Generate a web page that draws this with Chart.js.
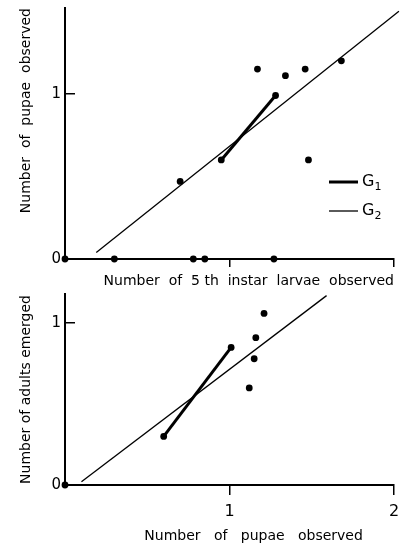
<!DOCTYPE html>
<html>
<head>
<meta charset="utf-8">
<script src="https://cdn.jsdelivr.net/npm/chart.js@4.4.1/dist/chart.umd.min.js"></script>
<style>
  body { margin: 0; background: #fff; }
  canvas { display: block; }
</style>
</head>
<body>
<canvas id="larvaeChart" width="401" height="290"></canvas>
<canvas id="pupaeChart" width="401" height="260"></canvas>
<script>
// ---- top panel: 5th instar larvae -> pupae ----
const larvaeX = [0, 0.30, 0.78, 0.85, 1.27, 0.70, 0.95, 1.17, 1.28, 1.34, 1.46, 1.48, 1.68];
const pupaeY  = [0, 0, 0, 0, 0, 0.47, 0.60, 1.15, 0.99, 1.11, 1.15, 0.60, 1.20];
const g1TopX = [0.95, 1.28];
const g1TopY = [0.60, 0.99];
const g2TopX = [0.19, 2.03];
const g2TopY = [0.04, 1.50];

// ---- bottom panel: pupae -> adults ----
const pupaeX  = [0, 0.60, 1.01, 1.21, 1.16, 1.15, 1.12];
const adultsY = [0, 0.30, 0.85, 1.06, 0.91, 0.78, 0.60];
const g1BotX = [0.60, 1.01];
const g1BotY = [0.30, 0.85];
const g2BotX = [0.10, 1.59];
const g2BotY = [0.02, 1.17];

// tick values
const xTicks = [1, 2];
const yTicks = [0, 1];

const FONT = "'DejaVu Sans', sans-serif";

function pts(xs, ys) {
  return xs.map((x, i) => ({ x: x, y: ys[i] }));
}

// legend drawn inside the plot (G with subscript)
const gLegend = {
  id: "gLegend",
  afterDatasetsDraw(chart, args, opts) {
    if (!opts.show) return;
    const ctx = chart.ctx;
    const items = chart.data.datasets.filter(d => d.inLegend);
    items.forEach((d, i) => {
      const y = opts.y + i * opts.gap;
      ctx.save();
      ctx.strokeStyle = "#000";
      ctx.lineWidth = d.borderWidth;
      ctx.beginPath();
      ctx.moveTo(opts.x, y);
      ctx.lineTo(opts.x + 29, y);
      ctx.stroke();
      ctx.fillStyle = "#000";
      ctx.textBaseline = "middle";
      ctx.font = "16px " + FONT;
      ctx.fillText(d.label.charAt(0), opts.x + 33, y);
      const w = ctx.measureText(d.label.charAt(0)).width;
      ctx.font = "11px " + FONT;
      ctx.fillText(d.label.slice(1), opts.x + 33 + w, y + 5);
      ctx.restore();
    });
  }
};

function makeOptions(cfg) {
  return {
    responsive: false,
    animation: false,
    layout: { padding: { left: 0, right: 7, top: cfg.padTop, bottom: 0 } },
    plugins: {
      legend: { display: false },
      tooltip: { enabled: false },
      gLegend: cfg.legend
    },
    scales: {
      x: {
        type: "linear",
        min: 0,
        max: 2,
        afterBuildTicks: s => { s.ticks = xTicks.map(v => ({ value: v })); },
        afterFit: s => {
          s.height = cfg.xHeight;
          s.paddingLeft = 0;
          s.paddingRight = 0;
        },
        ticks: {
          display: cfg.xLabels,
          color: "#000",
          font: { family: FONT, size: 16 },
          padding: 7,
          autoSkip: false
        },
        grid: { drawOnChartArea: false, tickLength: cfg.xTickLen, color: "#000", lineWidth: 1.5 },
        border: { color: "#000", width: 2 },
        title: {
          display: true,
          text: cfg.xTitle,
          align: "end",
          color: "#000",
          font: { family: FONT, size: 14 },
          padding: { top: 0, bottom: cfg.xTitlePad }
        }
      },
      y: {
        type: "linear",
        min: 0,
        max: cfg.yMax,
        afterBuildTicks: s => { s.ticks = yTicks.map(v => ({ value: v })); },
        afterFit: s => {
          s.width = 65;
          s.paddingTop = 0;
          s.paddingBottom = 0;
        },
        ticks: {
          color: "#000",
          font: { family: FONT, size: 15 },
          padding: 14
        },
        grid: { drawOnChartArea: false, tickLength: -10, color: "#000", lineWidth: 1.5 },
        border: { color: "#000", width: 2 },
        title: {
          display: true,
          text: cfg.yTitle,
          align: cfg.yAlign,
          color: "#000",
          font: { family: FONT, size: 14 },
          padding: { top: 18, bottom: 0 }
        }
      }
    }
  };
}

function makeDatasets(px, py, g1x, g1y, g2x, g2y) {
  return [
    {
      label: "obs",
      data: pts(px, py),
      pointRadius: 3.4,
      pointBackgroundColor: "#000",
      pointBorderWidth: 0,
      showLine: false,
      clip: false
    },
    {
      label: "G1",
      inLegend: true,
      data: pts(g1x, g1y),
      showLine: true,
      borderColor: "#000",
      borderWidth: 3,
      pointRadius: 0,
      clip: false
    },
    {
      label: "G2",
      inLegend: true,
      data: pts(g2x, g2y),
      showLine: true,
      borderColor: "#000",
      borderWidth: 1.3,
      pointRadius: 0,
      clip: false
    }
  ];
}

new Chart(document.getElementById("larvaeChart"), {
  type: "scatter",
  data: { datasets: makeDatasets(larvaeX, pupaeY, g1TopX, g1TopY, g2TopX, g2TopY) },
  options: makeOptions({
    padTop: 8,
    yMax: 1.52,
    xHeight: 31,
    xTickLen: 8,
    xLabels: false,
    xTitle: "Number  of  5 th  instar  larvae  observed",
    xTitlePad: 0,
    yTitle: "Number  of  pupae  observed",
    yAlign: "end",
    legend: { show: true, x: 329, y: 182, gap: 29 }
  }),
  plugins: [gLegend]
});

new Chart(document.getElementById("pupaeChart"), {
  type: "scatter",
  data: { datasets: makeDatasets(pupaeX, adultsY, g1BotX, g1BotY, g2BotX, g2BotY) },
  options: makeOptions({
    padTop: 4,
    yMax: 1.18,
    xHeight: 65,
    xTickLen: 10,
    xLabels: true,
    xTitle: "Number   of   pupae   observed       ",
    xTitlePad: 5,
    yTitle: "Number of adults emerged",
    yAlign: "center",
    legend: { show: false }
  }),
  plugins: [gLegend]
});
</script>
</body>
</html>
